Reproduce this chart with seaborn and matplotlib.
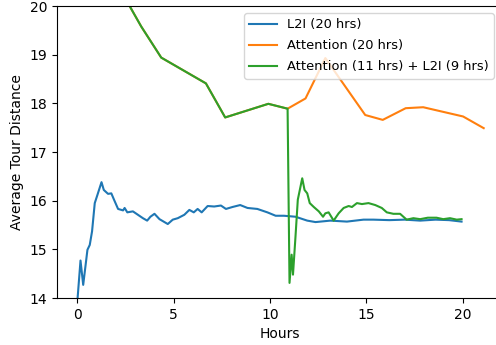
import matplotlib
matplotlib.use("Agg")
import matplotlib.pyplot as plt
import seaborn as sns
import pandas as pd

# L2I (20 hrs)
l2i_hours = [0.0, 0.17, 0.31, 0.53, 0.65, 0.77, 0.91, 1.05, 1.26, 1.38, 1.60, 1.77, 1.91,
             2.12, 2.38, 2.46, 2.60, 2.89, 3.15, 3.41, 3.63, 3.80, 4.01, 4.27, 4.70, 4.96,
             5.22, 5.56, 5.82, 6.05, 6.25, 6.46, 6.77, 7.11, 7.46, 7.72, 8.06, 8.46, 8.84,
             9.35, 9.87, 10.30, 10.73, 11.33, 11.94, 12.37, 13.14, 14.0, 14.86, 15.37,
             16.2, 17.0, 17.8, 18.6, 19.3, 19.95]
l2i_dist = [13.9, 14.77, 14.27, 14.99, 15.09, 15.37, 15.95, 16.12, 16.38, 16.22, 16.14, 16.15,
            16.02, 15.83, 15.80, 15.85, 15.76, 15.78, 15.71, 15.64, 15.59, 15.67, 15.73, 15.62,
            15.52, 15.61, 15.64, 15.71, 15.81, 15.76, 15.83, 15.76, 15.89, 15.88, 15.90, 15.83,
            15.87, 15.91, 15.85, 15.83, 15.76, 15.69, 15.69, 15.67, 15.59, 15.56, 15.59, 15.57,
            15.61, 15.61, 15.60, 15.61, 15.59, 15.61, 15.60, 15.57]

# Attention (20 hrs)
attn_hours = [1.0, 3.32, 4.36, 6.68, 7.68, 9.92, 10.92, 11.85, 12.88, 14.95, 15.86,
              17.05, 17.96, 20.03, 21.1]
attn_dist = [21.2, 19.58, 18.94, 18.41, 17.71, 17.99, 17.89, 18.10, 18.93, 17.76, 17.66,
             17.90, 17.92, 17.73, 17.49]
switch_index = 7  # Attention points used before switching to L2I at 11 hrs

# L2I continuation after 11 hrs of Attention
cont_hours = [11.02, 11.13, 11.2, 11.33, 11.45, 11.68, 11.80, 11.94, 12.07, 12.28, 12.54,
              12.76, 12.88, 13.05, 13.31, 13.57, 13.83, 14.09, 14.26, 14.52, 14.78, 15.12,
              15.47, 15.81, 16.07, 16.41, 16.76, 17.1, 17.45, 17.8, 18.2, 18.65, 19.0,
              19.35, 19.7, 19.95]
cont_dist = [14.31, 14.89, 14.48, 15.26, 16.02, 16.46, 16.22, 16.15, 15.95, 15.87, 15.78,
             15.67, 15.74, 15.76, 15.59, 15.74, 15.85, 15.89, 15.87, 15.95, 15.93, 15.95,
             15.91, 15.85, 15.76, 15.73, 15.73, 15.61, 15.64, 15.62, 15.65, 15.65, 15.62,
             15.64, 15.61, 15.62]

labels = ["L2I (20 hrs)", "Attention (20 hrs)", "Attention (11 hrs) + L2I (9 hrs)"]
colors = ["#1f77b4", "#ff7f0e", "#2ca02c"]

mix_hours = attn_hours[:switch_index] + cont_hours
mix_dist = attn_dist[:switch_index] + cont_dist

frames = []
for lab, hx, dy in zip(labels, [l2i_hours, attn_hours, mix_hours], [l2i_dist, attn_dist, mix_dist]):
    frames.append(pd.DataFrame({"Hours": hx, "dist": dy, "run": lab,
                                "order": range(len(hx))}))
df = pd.concat(frames, ignore_index=True)

fig = plt.figure(figsize=(4.96, 3.45), dpi=100)
ax = fig.add_axes([57 / 496, 47 / 345, 445 / 496, 292 / 345])
sns.lineplot(data=df, x="Hours", y="dist", hue="run", hue_order=labels,
             palette=colors, sort=False, estimator=None, units="run",
             linewidth=1.5, ax=ax, legend=False)
for lab, c in zip(labels, colors):
    ax.plot([], [], color=c, linewidth=1.5, label=lab)

ax.set_xlim(-1.05, 22.05)
ax.set_ylim(14, 20)
ax.set_xticks([0, 5, 10, 15, 20])
ax.set_yticks([14, 15, 16, 17, 18, 19, 20])
ax.set_xlabel("Hours")
ax.set_ylabel("Average Tour Distance")
ax.legend(loc="upper left", bbox_to_anchor=(244 / 496, 1 - 13 / 345),
          bbox_transform=fig.transFigure, borderaxespad=0, fontsize=9.4,
          handlelength=2.1, labelspacing=0.62)

fig.savefig("out.png", dpi=100)
